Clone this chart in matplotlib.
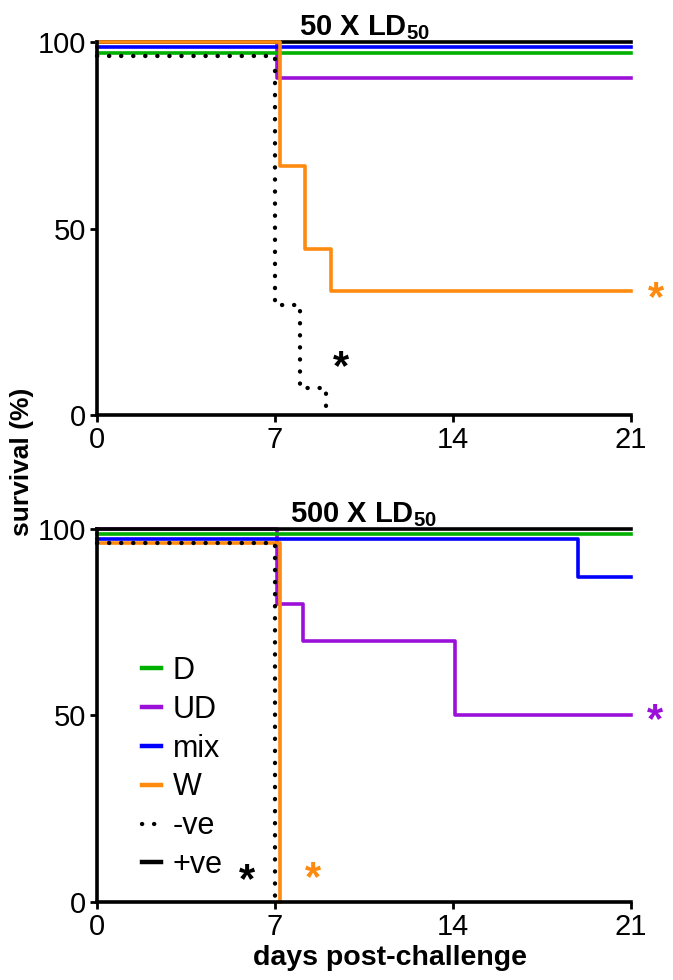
import matplotlib
matplotlib.use("Agg")
import matplotlib.pyplot as plt
from matplotlib.lines import Line2D

plt.rcParams['font.family'] = ['Liberation Sans', 'DejaVu Sans']
plt.rcParams['mathtext.fontset'] = 'custom'
plt.rcParams['mathtext.rm'] = 'Liberation Sans'
plt.rcParams['mathtext.bf'] = 'Liberation Sans:bold'

# ---- data ----
labels = ["D", "UD", "mix", "W", "-ve", "+ve"]
colors = ["#00b000", "#9b10d8", "#0000ff", "#ff8a10", "black", "black"]

# 50 X LD50
top_D_t, top_D_s = [0, 21], [97.2, 97.2]
top_UD_t, top_UD_s = [0, 7.1, 21], [100, 90.3, 90.3]
top_mix_t, top_mix_s = [0, 21], [98.8, 98.8]
top_W_t, top_W_s = [0, 7.2, 8.2, 9.2, 21], [100, 66.7, 44.4, 33.3, 33.3]
top_neg_t, top_neg_s = [0, 7, 8, 9], [96.3, 29.6, 7.2, 0]
top_pos_t, top_pos_s = [0, 21], [100, 100]

# 500 X LD50
bot_D_t, bot_D_s = [0, 21], [98.7, 98.7]
bot_UD_t, bot_UD_s = [0, 7.1, 8.1, 14.1, 21], [100, 80, 70, 50, 50]
bot_mix_t, bot_mix_s = [0, 18.9, 21], [97.3, 87.2, 87.2]
bot_W_t, bot_W_s = [0, 7.2], [96.2, 0]
bot_neg_t, bot_neg_s = [0, 7], [96.2, 0]
bot_pos_t, bot_pos_s = [0, 21], [100, 100]

titles = ["50 X LD$_{\\mathbf{50}}$", "500 X LD$_{\\mathbf{50}}$"]
xticks = [0, 7, 14, 21]
yticks = [0, 50, 100]

# asterisks: (x, y, color)
top_stars = [(22.0, 31.0, colors[3]), (9.6, 12.5, "black")]
bot_stars = [(21.95, 48.5, colors[1]), (8.5, 6.2, colors[3]), (5.9, 5.5, "black")]

fig = plt.figure(figsize=(6.73, 9.80), dpi=100)
ax1 = fig.add_axes([0.144, 0.5765, 0.7935, 0.3805])
ax2 = fig.add_axes([0.144, 0.0796, 0.7935, 0.3806])

LW = 2.6
NEG_LW = 3.1
NEG_STYLE = (0, (0.05, 2.75))

def draw(ax, series, stars, title):
    order = [1, 5, 0, 2, 3, 4]  # UD, +ve, D, mix, W, -ve
    for z, i in enumerate(order):
        t, s = series[i]
        if labels[i] == "-ve":
            ax.step(t, s, where="post", color="black", lw=NEG_LW,
                    linestyle=NEG_STYLE, dash_capstyle="round",
                    clip_on=False, zorder=10)
        else:
            ax.step(t, s, where="post", color=colors[i], lw=LW,
                    clip_on=False, zorder=3 + z)
    for (x, y, c) in stars:
        ax.text(x, y, "*", color=c, fontsize=30, fontweight="bold",
                ha="center", va="center", clip_on=False)
    ax.set_xlim(0, 21)
    ax.set_ylim(0, 100)
    ax.set_xticks(xticks)
    ax.set_yticks(yticks)
    for sp in ["top", "right"]:
        ax.spines[sp].set_visible(False)
    for sp in ["left", "bottom"]:
        ax.spines[sp].set_linewidth(2.6)
        ax.spines[sp].set_zorder(12)
    ax.tick_params(axis="both", width=2.0, length=5, labelsize=21, pad=3)
    ax.set_title(title, fontsize=21, fontweight="bold", pad=3)

top_series = [(top_D_t, top_D_s), (top_UD_t, top_UD_s), (top_mix_t, top_mix_s),
              (top_W_t, top_W_s), (top_neg_t, top_neg_s), (top_pos_t, top_pos_s)]
bot_series = [(bot_D_t, bot_D_s), (bot_UD_t, bot_UD_s), (bot_mix_t, bot_mix_s),
              (bot_W_t, bot_W_s), (bot_neg_t, bot_neg_s), (bot_pos_t, bot_pos_s)]

draw(ax1, top_series, top_stars, titles[0])
draw(ax2, bot_series, bot_stars, titles[1])

leg_handles = []
for i in range(6):
    if labels[i] == "-ve":
        leg_handles.append(Line2D([0], [0], color="black", lw=NEG_LW,
                                  linestyle=NEG_STYLE, dash_capstyle="round"))
    else:
        leg_handles.append(Line2D([0], [0], color=colors[i], lw=LW + 0.6))
ax2.legend(leg_handles, labels, loc="upper left", bbox_to_anchor=(0.085, 0.66),
           frameon=False, fontsize=22, handlelength=0.6, handletextpad=0.4,
           labelspacing=0.29, borderpad=0, borderaxespad=0)

fig.text(0.033, 0.529, "survival (%)", rotation=90, fontsize=19, fontweight="bold",
         ha="center", va="center")
fig.text(0.58, 0.0224, "days post-challenge", fontsize=20.5, fontweight="bold",
         ha="center", va="center")

fig.savefig("out.png", dpi=100)
